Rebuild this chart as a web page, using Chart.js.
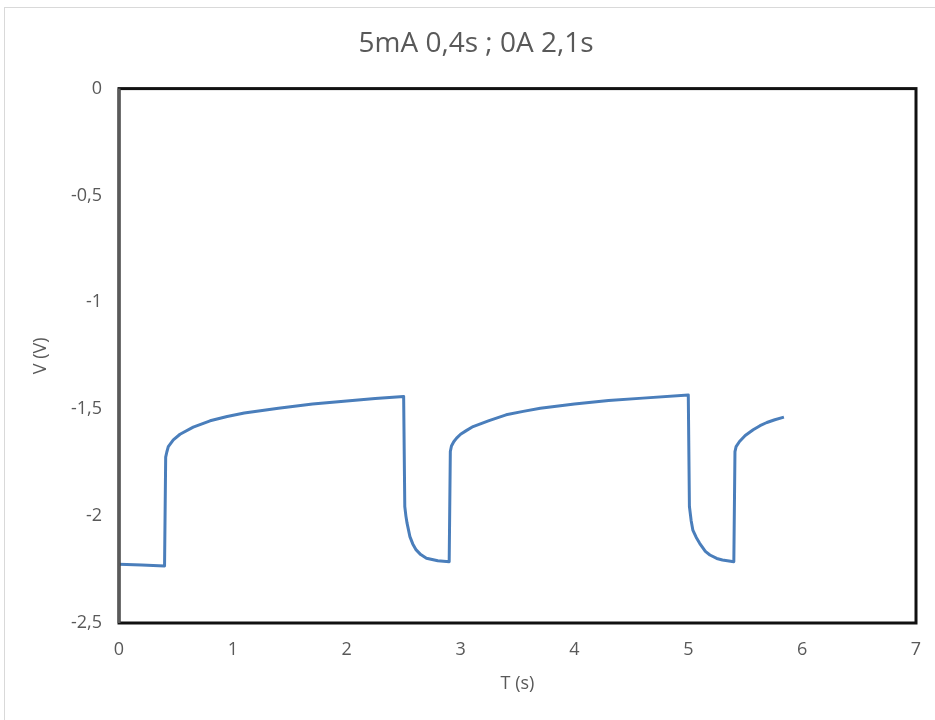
<!DOCTYPE html>
<html>
<head>
<meta charset="utf-8">
<script src="https://cdn.jsdelivr.net/npm/chart.js@4/dist/chart.umd.min.js"></script>
<style>
  html, body { margin: 0; padding: 0; background: #fff; overflow: hidden; }
  #frame { position: absolute; left: 4px; top: 7px; width: 980px; height: 760px; border: 1px solid #d9d9d9; }
  #wrap { position: absolute; left: 0; top: 0; }
</style>
</head>
<body>
<div id="frame"></div>
<div id="wrap"><canvas id="volt" width="952" height="720"></canvas></div>
<script>
// time (s) and cell voltage (V)
const timeS = [0, 0.2, 0.4, 0.41, 0.42, 0.433, 0.477, 0.536, 0.652, 0.8, 0.95, 1.1, 1.4, 1.7, 2.0, 2.25, 2.5,
  2.51, 2.52, 2.53, 2.555, 2.58, 2.61, 2.65, 2.7, 2.8, 2.9,
  2.91, 2.92, 2.94, 2.965, 3.0, 3.05, 3.11, 3.25, 3.4, 3.55, 3.7, 4.0, 4.3, 4.6, 5.0,
  5.01, 5.025, 5.04, 5.07, 5.1, 5.15, 5.19, 5.25, 5.3, 5.4,
  5.41, 5.42, 5.45, 5.5, 5.57, 5.63, 5.69, 5.76, 5.84];
const voltage = [-2.225, -2.229, -2.233, -1.724, -1.7, -1.675, -1.643, -1.617, -1.584, -1.554, -1.534, -1.518, -1.495, -1.476, -1.461, -1.45, -1.44,
  -1.955, -2.0, -2.033, -2.096, -2.13, -2.158, -2.18, -2.197, -2.209, -2.213,
  -1.698, -1.672, -1.652, -1.635, -1.617, -1.6, -1.581, -1.553, -1.526, -1.51, -1.495, -1.475, -1.459, -1.448, -1.433,
  -1.955, -2.02, -2.065, -2.1, -2.127, -2.165, -2.182, -2.198, -2.205, -2.213,
  -1.698, -1.675, -1.651, -1.623, -1.596, -1.577, -1.562, -1.549, -1.537];
const xTicks = [0, 1, 2, 3, 4, 5, 6, 7];
const yTicks = [-2.5, -2, -1.5, -1, -0.5, 0];

const grey = '#595959';
const font = 'Open Sans';

const plotBorder = {
  id: 'plotBorder',
  afterDraw(chart) {
    const {ctx, chartArea: a} = chart;
    ctx.save();
    ctx.lineWidth = 3;
    ctx.strokeStyle = '#111';
    ctx.strokeRect(a.left, a.top, a.right - a.left, a.bottom - a.top);
    ctx.strokeStyle = '#5a5a5a';
    ctx.beginPath();
    ctx.moveTo(a.left, a.top);
    ctx.lineTo(a.left, a.bottom);
    ctx.stroke();
    ctx.restore();
  }
};

const points = timeS.map((t, i) => ({x: t, y: voltage[i]}));

new Chart(document.getElementById('volt').getContext('2d'), {
  type: 'line',
  data: {
    datasets: [{
      data: points,
      borderColor: '#4a7ebb',
      borderWidth: 3,
      borderJoinStyle: 'round',
      pointRadius: 0,
      tension: 0,
      fill: false
    }]
  },
  options: {
    responsive: false,
    animation: false,
    layout: { padding: 0 },
    plugins: {
      legend: { display: false },
      tooltip: { enabled: false },
      title: {
        display: true,
        text: '5mA 0,4s ; 0A 2,1s',
        color: grey,
        font: { family: font, size: 28, weight: 'normal' },
        padding: { top: 27, bottom: 28 }
      }
    },
    scales: {
      x: {
        type: 'linear',
        min: 0,
        max: 7,
        afterBuildTicks: s => { s.ticks = xTicks.map(v => ({value: v})); },
        afterFit: s => { s.height = 97; },
        grid: { display: false, drawTicks: false },
        border: { display: false },
        ticks: {
          color: grey,
          padding: 16,
          font: { family: font, size: 18 },
          callback: v => String(v).replace('.', ',')
        },
        title: {
          display: true,
          text: 'T (s)',
          color: grey,
          font: { family: font, size: 18 },
          padding: { top: 0, bottom: 25 }
        }
      },
      y: {
        type: 'linear',
        min: -2.5,
        max: 0,
        afterBuildTicks: s => { s.ticks = yTicks.map(v => ({value: v})); },
        afterFit: s => { s.width = 119; },
        grid: { display: false, drawTicks: false },
        border: { display: false },
        ticks: {
          color: grey,
          padding: 17,
          font: { family: font, size: 18 },
          callback: v => String(v).replace('.', ',')
        },
        title: {
          display: true,
          text: 'V (V)',
          color: grey,
          font: { family: font, size: 18 },
          padding: { top: 30, bottom: 0 }
        }
      },
      // empty right-hand strip so the title centres on the whole chart
      yRight: {
        type: 'linear',
        position: 'right',
        min: -2.5,
        max: 0,
        afterFit: s => { s.width = 36; },
        grid: { display: false, drawTicks: false },
        border: { display: false },
        ticks: { display: false }
      }
    }
  },
  plugins: [plotBorder]
});
</script>
</body>
</html>
